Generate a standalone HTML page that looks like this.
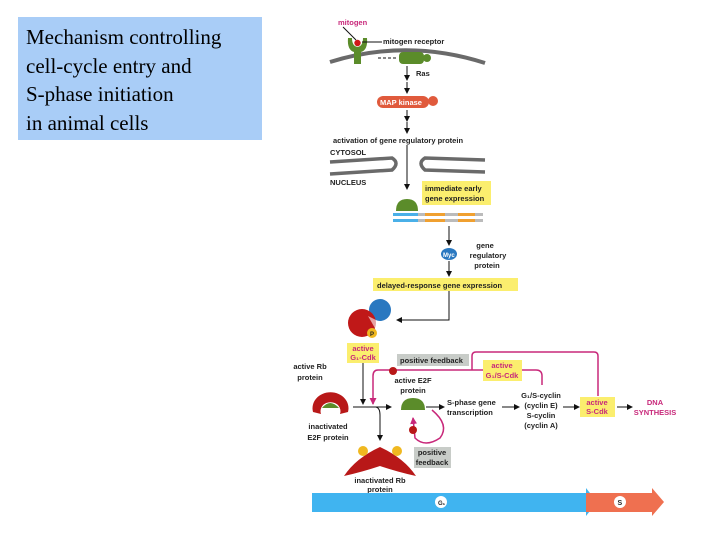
<!DOCTYPE html>
<html><head><meta charset="utf-8"><style>
body{margin:0;width:720px;height:540px;background:#fff;overflow:hidden;position:relative}
.t{position:absolute;left:18px;top:17px;width:244px;height:123px;background:#a9cdf7;font-family:"Liberation Serif",serif;font-size:21px;line-height:28.5px;padding:6px 0 0 8px;box-sizing:border-box;color:#000}
svg{position:absolute;left:0;top:0}
text{font-family:"Liberation Sans",sans-serif;font-weight:bold;font-size:7.5px;fill:#222}
</style></head><body>
<div class="t">Mechanism controlling<br>cell-cycle entry and<br>S-phase initiation<br>in animal cells</div>
<svg width="720" height="540" viewBox="0 0 720 540">
<defs><marker id="a" markerUnits="userSpaceOnUse" markerWidth="6" markerHeight="6" refX="5" refY="3" orient="auto"><path d="M0,0L6,3L0,6z" fill="#111"/></marker>
<marker id="m" markerUnits="userSpaceOnUse" markerWidth="7" markerHeight="7" refX="6" refY="3.5" orient="auto"><path d="M0,0L7,3.5L0,7z" fill="#c8287a"/></marker></defs>
<text x="338" y="25" style="fill:#c8287a">mitogen</text>
<line x1="343" y1="27" x2="356" y2="40" stroke="#111"/>
<path d="M330,62 Q407,38 485,63" stroke="#6a6a6a" stroke-width="4" fill="none"/>
<path d="M348,38 Q347,50 354,52 L354,64 L361,64 L361,52 Q368,50 367,38 L363,38 Q363,46 357.5,47 Q352,46 352,38Z" fill="#5b8c2a"/>
<circle cx="357.5" cy="43" r="3.2" fill="#d01818"/>
<line x1="362" y1="42" x2="382" y2="42" stroke="#111"/>
<text x="383" y="44">mitogen receptor</text>
<rect x="399" y="52" width="25" height="12" rx="4" fill="#5b8c2a"/><circle cx="427" cy="58" r="4" fill="#5b8c2a"/>
<text x="416" y="76">Ras</text>
<line x1="378" y1="58" x2="396" y2="58" stroke="#111" stroke-dasharray="3,2"/>
<line x1="407" y1="66" x2="407" y2="80" stroke="#111" marker-end="url(#a)"/>
<line x1="407" y1="82" x2="407" y2="93" stroke="#111" marker-end="url(#a)"/>
<rect x="377" y="96" width="52" height="12" rx="6" fill="#e05a3c"/><circle cx="433" cy="101" r="5" fill="#e05a3c"/>
<text x="380" y="105" style="fill:#fff">MAP kinase</text>
<line x1="407" y1="110" x2="407" y2="121" stroke="#111" marker-end="url(#a)"/>
<line x1="407" y1="122" x2="407" y2="133" stroke="#111" marker-end="url(#a)"/>
<text x="333" y="143">activation of gene regulatory protein</text>
<text x="330" y="155">CYTOSOL</text>
<text x="330" y="185">NUCLEUS</text>
<path d="M330,162 L392,158 Q400,163 392,170 L330,174" stroke="#6a6a6a" stroke-width="3.5" fill="none"/>
<path d="M485,160 L425,158 Q417,163 425,170 L485,172" stroke="#6a6a6a" stroke-width="3.5" fill="none"/>
<line x1="407" y1="145" x2="407" y2="189" stroke="#111" marker-end="url(#a)"/>
<rect x="422" y="181" width="69" height="24" fill="#fbee6e"/>
<text x="425" y="191">immediate early</text><text x="425" y="201">gene expression</text>
<path d="M396,211 Q396,199 407,199 Q418,199 418,211Z" fill="#5b8c2a"/>
<rect x="393" y="213" width="90" height="3" fill="#bbb"/><rect x="393" y="219" width="90" height="3" fill="#bbb"/>
<rect x="393" y="213" width="25" height="3" fill="#4ab0e8"/><rect x="393" y="219" width="25" height="3" fill="#4ab0e8"/>
<rect x="425" y="213" width="20" height="3" fill="#f0a030"/><rect x="425" y="219" width="20" height="3" fill="#f0a030"/>
<rect x="458" y="213" width="17" height="3" fill="#f0a030"/><rect x="458" y="219" width="17" height="3" fill="#f0a030"/>
<line x1="449" y1="226" x2="449" y2="245" stroke="#111" marker-end="url(#a)"/>
<ellipse cx="449" cy="254" rx="8" ry="6" fill="#2a78c0"/><text x="443" y="257" style="fill:#fff;font-size:6px">Myc</text>
<text x="485" y="248" text-anchor="middle">gene</text><text x="488" y="258" text-anchor="middle">regulatory</text><text x="487" y="268" text-anchor="middle">protein</text>
<line x1="449" y1="261" x2="449" y2="276" stroke="#111" marker-end="url(#a)"/>
<rect x="373" y="278" width="145" height="13" fill="#fbee6e"/>
<text x="377" y="288">delayed-response gene expression</text>
<path d="M449,291 V320 H397" stroke="#111" fill="none" marker-end="url(#a)"/>
<circle cx="380" cy="310" r="11" fill="#2a78c0"/>
<circle cx="362" cy="323" r="14" fill="#c01818"/>
<path d="M368,316 L380,322 L376,330Z" fill="#fff" opacity="0.6"/>
<circle cx="372" cy="333" r="5" fill="#f0b820"/><text x="370" y="336" style="font-size:6px">P</text>
<rect x="347" y="343" width="32" height="20" fill="#fbee6e"/>
<text x="363" y="351" text-anchor="middle" style="fill:#c8287a">active</text><text x="363" y="360" text-anchor="middle" style="fill:#c8287a">G₁-Cdk</text>
<line x1="363" y1="363" x2="363" y2="404" stroke="#111" marker-end="url(#a)"/>
<line x1="353" y1="407" x2="391" y2="407" stroke="#111" marker-end="url(#a)"/>
<path d="M376,407 Q380,408 380,415 V440" stroke="#111" fill="none" marker-end="url(#a)"/>
<text x="310" y="369" text-anchor="middle">active Rb</text><text x="310" y="380" text-anchor="middle">protein</text>
<path d="M313,412 A18,16 0 1,1 348,412 L340,414 A10,9 0 1,0 321,414Z" fill="#b81818"/>
<path d="M322,408 Q330,398 339,408Z" fill="#5b8c2a"/>
<text x="328" y="429" text-anchor="middle">inactivated</text><text x="328" y="440" text-anchor="middle">E2F protein</text>
<path d="M344,476 Q356,458 380,447 Q404,458 416,476 Q398,472 380,466 Q362,472 344,476Z" fill="#b81818"/>
<circle cx="363" cy="451" r="5" fill="#f0b820"/><circle cx="397" cy="451" r="5" fill="#f0b820"/>
<text x="380" y="483" text-anchor="middle">inactivated Rb</text><text x="380" y="492" text-anchor="middle">protein</text>
<rect x="397" y="354" width="72" height="12" fill="#c8ccc8"/><text x="400" y="363">positive feedback</text>
<path d="M598,396 V356 Q598,352 594,352 H476 Q472,352 472,356 V370" stroke="#c8287a" stroke-width="1.5" fill="none"/>
<path d="M542,385 V376 Q542,370 536,370 H378 Q373,370 373,376 V404" stroke="#c8287a" stroke-width="1.5" fill="none" marker-end="url(#m)"/>
<circle cx="393" cy="371" r="4" fill="#b81818"/>
<rect x="483" y="360" width="39" height="21" fill="#fbee6e"/>
<text x="502" y="368" text-anchor="middle" style="fill:#c8287a">active</text><text x="502" y="378" text-anchor="middle" style="fill:#c8287a">G₁/S-Cdk</text>
<text x="413" y="383" text-anchor="middle">active E2F</text><text x="413" y="393" text-anchor="middle">protein</text>
<path d="M401,410 Q401,398 413,398 Q425,398 425,410Z" fill="#5b8c2a"/>
<line x1="426" y1="407" x2="444" y2="407" stroke="#111" marker-end="url(#a)"/>
<path d="M432,410 Q450,425 440,438 Q425,448 415,438 L413,418" stroke="#c8287a" stroke-width="1.5" fill="none" marker-end="url(#m)"/>
<circle cx="413" cy="430" r="4" fill="#b81818"/>
<rect x="414" y="447" width="37" height="21" fill="#c8ccc8"/><text x="432" y="455" text-anchor="middle">positive</text><text x="432" y="465" text-anchor="middle">feedback</text>
<text x="447" y="405">S-phase gene</text><text x="447" y="415">transcription</text>
<line x1="502" y1="407" x2="519" y2="407" stroke="#111" marker-end="url(#a)"/>
<text x="541" y="398" text-anchor="middle">G₁/S-cyclin</text><text x="541" y="408" text-anchor="middle">(cyclin E)</text><text x="541" y="418" text-anchor="middle">S-cyclin</text><text x="541" y="428" text-anchor="middle">(cyclin A)</text>
<line x1="563" y1="407" x2="579" y2="407" stroke="#111" marker-end="url(#a)"/>
<rect x="580" y="397" width="35" height="20" fill="#fbee6e"/>
<text x="597" y="405" text-anchor="middle" style="fill:#c8287a">active</text><text x="597" y="414" text-anchor="middle" style="fill:#c8287a">S-Cdk</text>
<line x1="617" y1="407" x2="632" y2="407" stroke="#111" marker-end="url(#a)"/>
<text x="655" y="405" text-anchor="middle" style="fill:#c8287a">DNA</text><text x="655" y="415" text-anchor="middle" style="fill:#c8287a">SYNTHESIS</text>
<path d="M312,493 H586 V488 L597,502 L586,516 V512 H312Z" fill="#40b4f0"/>
<path d="M586,493 H652 V488 L664,502 L652,516 V512 H586Z" fill="#ef7050"/>
<circle cx="441" cy="502" r="6" fill="#fff"/><text x="438" y="505" style="font-size:6px">G₁</text>
<circle cx="620" cy="502" r="6" fill="#fff"/><text x="617.5" y="505" style="font-size:7px">S</text>
</svg>
</body></html>
